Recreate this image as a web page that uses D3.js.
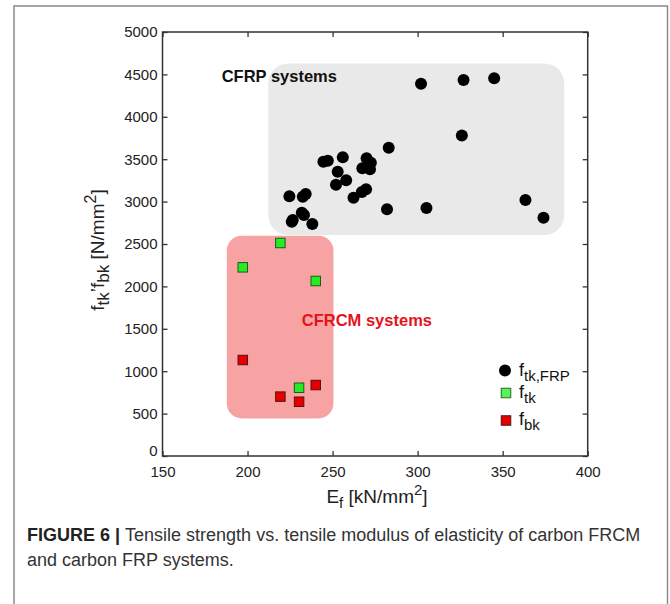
<!DOCTYPE html>
<html>
  <head>
    <meta charset="utf-8">
    <script src="https://d3js.org/d3.v7.min.js"></script>
    <style>
      body { margin: 0; background: #fff; font-family: "Liberation Sans", Arial, sans-serif; }
      svg { display: block; }
    </style>
  </head>
  <body>
    <script>
      // CFRP systems: f_tk,FRP vs E_f
      var frpE = [302, 327, 345, 326, 283, 244.6, 247.2, 256, 253, 270, 272.5, 267.5, 272,
                  258, 252, 269.7, 267.2, 262.3, 224.6, 232.5, 234.2, 231.9, 233.2, 226.6,
                  226, 238.1, 282, 305.2, 363.4, 374]
      var frpF = [4390, 4435, 4455, 3780, 3635, 3471, 3483, 3522, 3353, 3511, 3459, 3393, 3381,
                  3251, 3200, 3145, 3113, 3046, 3062, 3058, 3090, 2869, 2842, 2783,
                  2763, 2736, 2909, 2925, 3019, 2810]
      // CFRCM systems
      var ftkE = [219.3, 197.2, 240.1, 230.3]
      var ftkF = [2512, 2225, 2064, 805]
      var fbkE = [197.2, 219.3, 230.3, 240.1]
      var fbkF = [1132, 700, 640, 837]

      var xTicks = [150, 200, 250, 300, 350, 400]
      var yTicks = [0, 500, 1000, 1500, 2000, 2500, 3000, 3500, 4000, 4500, 5000]

      // shaded regions [x0, x1, y0, y1] in data units
      var frpRegion = [212.2, 386.2, 2606, 4630]
      var frcmRegion = [187.8, 250.5, 443, 2598]

      var W = 670, H = 604
      var margin = {left: 162.5, right: 82.3, top: 32, bottom: 148}
      var pw = W - margin.left - margin.right
      var ph = H - margin.top - margin.bottom

      var x = d3.scaleLinear().domain([150, 400]).range([0, pw])
      var y = d3.scaleLinear().domain([0, 5000]).range([ph, 0])

      var svg = d3.select("body").append("svg")
          .attr("width", W)
          .attr("height", H)

      // outer frame
      svg.append("rect")
          .attr("x", 14).attr("y", 6)
          .attr("width", 653.5).attr("height", 620)
          .attr("fill", "none")
          .attr("stroke", "#8a8a8a")
          .attr("stroke-width", 1.5)

      var g = svg.append("g").attr("transform", "translate(" + margin.left + "," + margin.top + ")")

      // regions
      g.append("rect")
          .attr("x", x(frpRegion[0])).attr("y", y(frpRegion[3]))
          .attr("width", x(frpRegion[1]) - x(frpRegion[0]))
          .attr("height", y(frpRegion[2]) - y(frpRegion[3]))
          .attr("rx", 20).attr("ry", 20)
          .attr("fill", "#e9e9e9")
      g.append("rect")
          .attr("x", x(frcmRegion[0])).attr("y", y(frcmRegion[3]))
          .attr("width", x(frcmRegion[1]) - x(frcmRegion[0]))
          .attr("height", y(frcmRegion[2]) - y(frcmRegion[3]))
          .attr("rx", 15).attr("ry", 15)
          .attr("fill", "#f8a3a3")

      // annotations
      g.append("text")
          .attr("x", x(184.8)).attr("y", y(4414))
          .attr("font-size", 16.5).attr("font-weight", "bold").attr("fill", "#111")
          .text("CFRP systems")
      g.append("text")
          .attr("x", x(231.9)).attr("y", y(1533))
          .attr("font-size", 16.5).attr("font-weight", "bold").attr("fill", "#e3141b")
          .text("CFRCM systems")

      // axes (box with inward ticks)
      var axisColor = "#333"
      var fmt = d3.format("d")
      function styleAxis(sel) {
        sel.select(".domain").remove()
        sel.selectAll(".tick line").attr("stroke", axisColor).attr("stroke-width", 1.3)
        sel.selectAll(".tick text").attr("font-size", 15).attr("fill", "#222")
            .attr("font-family", "Liberation Sans, Arial, sans-serif")
      }
      g.append("g").attr("transform", "translate(0," + ph + ")")
          .call(d3.axisBottom(x).tickValues(xTicks).tickFormat(fmt).tickSizeInner(-5).tickSizeOuter(0).tickPadding(10))
          .call(styleAxis)
      g.append("g")
          .call(d3.axisTop(x).tickValues(xTicks).tickSizeInner(-5).tickSizeOuter(0).tickFormat(""))
          .call(styleAxis)
      var yAx = g.append("g")
          .call(d3.axisLeft(y).tickValues(yTicks).tickFormat(fmt).tickSizeInner(-5).tickSizeOuter(0).tickPadding(5))
          .call(styleAxis)
      // the zero label sits a little above the corner, as in the original
      yAx.selectAll(".tick text").filter(function(d) { return d === 0 }).attr("dy", "-0.05em")
      g.append("g").attr("transform", "translate(" + pw + ",0)")
          .call(d3.axisRight(y).tickValues(yTicks).tickSizeInner(-5).tickSizeOuter(0).tickFormat(""))
          .call(styleAxis)
      g.append("rect")
          .attr("width", pw).attr("height", ph)
          .attr("fill", "none").attr("stroke", axisColor).attr("stroke-width", 1.5)

      // points
      g.selectAll(".frp").data(frpE).enter().append("circle")
          .attr("class", "frp")
          .attr("cx", function(d) { return x(d) })
          .attr("cy", function(d, i) { return y(frpF[i]) })
          .attr("r", 6)
          .attr("fill", "#000")
      var sq = 9.5
      g.selectAll(".ftk").data(ftkE).enter().append("rect")
          .attr("class", "ftk")
          .attr("x", function(d) { return x(d) - sq / 2 })
          .attr("y", function(d, i) { return y(ftkF[i]) - sq / 2 })
          .attr("width", sq).attr("height", sq)
          .attr("fill", "#22ee22").attr("stroke", "#1d5a1d").attr("stroke-width", 1)
      g.selectAll(".fbk").data(fbkE).enter().append("rect")
          .attr("class", "fbk")
          .attr("x", function(d) { return x(d) - sq / 2 })
          .attr("y", function(d, i) { return y(fbkF[i]) - sq / 2 })
          .attr("width", sq).attr("height", sq)
          .attr("fill", "#e50000").attr("stroke", "#5a1010").attr("stroke-width", 1)

      // legend
      var leg = svg.append("g").attr("transform", "translate(505,0)")
      leg.append("circle").attr("cx", 0).attr("cy", 370.5).attr("r", 6).attr("fill", "#000")
      leg.append("rect").attr("x", -sq / 2 + 1).attr("y", 393 - sq / 2).attr("width", sq).attr("height", sq)
          .attr("fill", "#55f555").attr("stroke", "#2a6a2a")
      leg.append("rect").attr("x", -sq / 2 + 1).attr("y", 420.5 - sq / 2).attr("width", sq).attr("height", sq)
          .attr("fill", "#e50000").attr("stroke", "#5a1010")
      var legText = [["tk,FRP", 375.5], ["tk", 397.5], ["bk", 425]]
      legText.forEach(function(t) {
        var tx = leg.append("text").attr("x", 14).attr("y", t[1]).attr("font-size", 18).attr("fill", "#111")
        tx.append("tspan").text("f")
        tx.append("tspan").attr("dy", 5).attr("font-size", 15).text(t[0])
      })

      // axis labels
      var xl = svg.append("text").attr("x", 377).attr("y", 503)
          .attr("text-anchor", "middle").attr("font-size", 19).attr("fill", "#222")
      xl.append("tspan").text("E")
      xl.append("tspan").attr("dy", 5).attr("font-size", 15).text("f")
      xl.append("tspan").attr("dy", -5).text(" [kN/mm")
      xl.append("tspan").attr("dy", -8).attr("font-size", 15).text("2")
      xl.append("tspan").attr("dy", 8).text("]")

      var yl = svg.append("text")
          .attr("transform", "translate(104,250) rotate(-90)")
          .attr("text-anchor", "middle").attr("font-size", 19).attr("fill", "#222")
      yl.append("tspan").text("f")
      yl.append("tspan").attr("dy", 5).attr("font-size", 17).text("tk")
      yl.append("tspan").attr("dy", -5).text("\u2019f")
      yl.append("tspan").attr("dy", 5).attr("font-size", 17).text("bk")
      yl.append("tspan").attr("dy", -5).text(" [N/mm")
      yl.append("tspan").attr("dy", -8).attr("font-size", 16).text("2")
      yl.append("tspan").attr("dy", 8).text("]")

      // caption
      var cap1 = svg.append("text").attr("x", 27).attr("y", 541).attr("font-size", 18).attr("fill", "#333")
      cap1.append("tspan").attr("font-weight", "bold").attr("fill", "#222").text("FIGURE 6 | ")
      cap1.append("tspan").text("Tensile strength vs. tensile modulus of elasticity of carbon FRCM")
      svg.append("text").attr("x", 27).attr("y", 566).attr("font-size", 18).attr("fill", "#333")
          .text("and carbon FRP systems.")
    </script>
  </body>
</html>
